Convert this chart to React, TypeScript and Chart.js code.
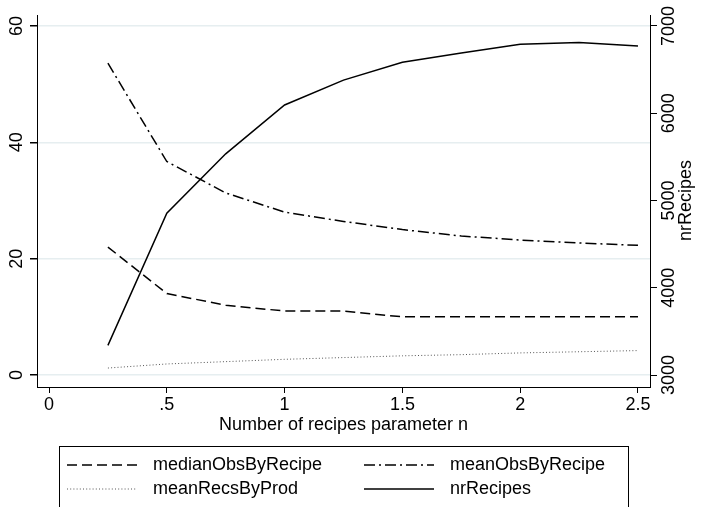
import React, { useEffect, useRef } from "react";
import { Chart, registerables } from "chart.js";

Chart.register(...registerables);

const nValues = [0.25, 0.5, 0.75, 1, 1.25, 1.5, 1.75, 2, 2.25, 2.5];
const medianObsByRecipe = [22, 14, 12, 11, 11, 10, 10, 10, 10, 10];
const meanObsByRecipe = [53.6, 36.7, 31.3, 28.0, 26.4, 25.0, 23.9, 23.2, 22.7, 22.3];
const meanRecsByProd = [1.2, 1.9, 2.3, 2.7, 3.0, 3.3, 3.5, 3.8, 4.0, 4.2];
const nrRecipes = [3340, 4855, 5535, 6095, 6380, 6585, 6690, 6790, 6810, 6770];

const xTicks = [0, 0.5, 1, 1.5, 2, 2.5];
const yLeftTicks = [0, 20, 40, 60];
const yRightTicks = [3000, 4000, 5000, 6000, 7000];

const xTitle = "Number of recipes parameter n";
const yRightTitle = "nrRecipes";

const FONT = '"Liberation Sans", Arial, Helvetica, sans-serif';
const FS = 18;

const fmtX = (v: number) => {
  const s = String(v);
  return s.startsWith("0.") ? s.slice(1) : s;
};

const toPts = (vals: number[]) => vals.map((y, i) => ({ x: nValues[i], y }));

const stataPlugin = {
  id: "stataDecor",
  afterDraw(chart: any) {
    const ctx = chart.ctx as CanvasRenderingContext2D;
    const ca = chart.chartArea;
    const yL = chart.scales.y;
    const yR = chart.scales.y2;
    ctx.save();
    ctx.fillStyle = "#000";
    ctx.font = `${FS}px ${FONT}`;
    ctx.textAlign = "center";
    ctx.textBaseline = "middle";
    // left tick labels, rotated
    yLeftTicks.forEach((v) => {
      ctx.save();
      ctx.translate(ca.left - 21, yL.getPixelForValue(v));
      ctx.rotate(-Math.PI / 2);
      ctx.fillText(String(v), 0, 1);
      ctx.restore();
    });
    // right tick labels, rotated
    yRightTicks.forEach((v) => {
      ctx.save();
      ctx.translate(ca.right + 18, yR.getPixelForValue(v));
      ctx.rotate(-Math.PI / 2);
      ctx.fillText(String(v), 0, 1);
      ctx.restore();
    });
    // right title
    ctx.save();
    ctx.translate(ca.right + 36, (yR.getPixelForValue(3000) + yR.getPixelForValue(7000)) / 2);
    ctx.rotate(-Math.PI / 2);
    ctx.fillText(yRightTitle, 0, 0);
    ctx.restore();
    // x title
    ctx.fillText(xTitle, (ca.left + ca.right) / 2, 425);

    // legend
    const boxL = 59.5, boxT = 446.5, boxR = 628.5;
    ctx.strokeStyle = "#000";
    ctx.lineWidth = 1;
    ctx.setLineDash([]);
    ctx.strokeRect(boxL, boxT, boxR - boxL, 100);
    const order = [0, 1, 2, 3];
    const cols = [67, 364];
    const rows = [465, 489];
    order.forEach((di, k) => {
      const ds = chart.data.datasets[di];
      const x0 = cols[k % 2];
      const y0 = rows[Math.floor(k / 2)];
      ctx.save();
      ctx.strokeStyle = ds.borderColor;
      ctx.lineWidth = ds.borderWidth;
      ctx.setLineDash(ds.borderDash || []);
      ctx.beginPath();
      ctx.moveTo(x0, y0);
      ctx.lineTo(x0 + 70, y0);
      ctx.stroke();
      ctx.restore();
      ctx.textAlign = "left";
      ctx.fillText(ds.label, x0 + 86, y0);
    });
    ctx.restore();
  },
};

export default function App() {
  const ref = useRef<HTMLCanvasElement | null>(null);
  useEffect(() => {
    if (!ref.current) return;
    const chart = new Chart(ref.current, {
      type: "line",
      data: {
        datasets: [
          {
            label: "medianObsByRecipe",
            data: toPts(medianObsByRecipe),
            yAxisID: "y",
            borderColor: "#000",
            borderWidth: 1.5,
            borderDash: [10, 5],
            pointRadius: 0,
            tension: 0,
          },
          {
            label: "meanObsByRecipe",
            data: toPts(meanObsByRecipe),
            yAxisID: "y",
            borderColor: "#000",
            borderWidth: 1.5,
            borderDash: [11, 4, 2, 4],
            pointRadius: 0,
            tension: 0,
          },
          {
            label: "meanRecsByProd",
            data: toPts(meanRecsByProd),
            yAxisID: "y",
            borderColor: "#555",
            borderWidth: 1,
            borderDash: [1, 2.2],
            pointRadius: 0,
            tension: 0,
          },
          {
            label: "nrRecipes",
            data: toPts(nrRecipes),
            yAxisID: "y2",
            borderColor: "#000",
            borderWidth: 1.5,
            pointRadius: 0,
            tension: 0,
          },
        ],
      },
      options: {
        responsive: false,
        animation: false,
        devicePixelRatio: 1,
        layout: { padding: { top: 15, left: 0, right: 0, bottom: 0 } },
        plugins: { legend: { display: false }, tooltip: { enabled: false } },
        scales: {
          x: {
            type: "linear",
            position: "bottom",
            min: -0.051,
            max: 2.551,
            bounds: "data",
            afterBuildTicks: (s: any) => {
              s.ticks = xTicks.map((v) => ({ value: v }));
            },
            afterFit: (s: any) => {
              s.height = 120;
            },
            ticks: {
              color: "#000",
              font: { family: FONT, size: FS },
              padding: 1,
              maxRotation: 0,
              minRotation: 0,
              autoSkip: false,
              callback: (v: any) => fmtX(Number(v)),
            },
            grid: { drawOnChartArea: false, tickColor: "#000", tickLength: 6, lineWidth: 1 },
            border: { color: "#000", width: 1 },
          },
          y: {
            type: "linear",
            position: "left",
            min: -2.06,
            max: 61.89,
            bounds: "data",
            afterBuildTicks: (s: any) => {
              s.ticks = yLeftTicks.map((v) => ({ value: v }));
            },
            afterFit: (s: any) => {
              s.width = 37;
            },
            ticks: { display: false },
            grid: { color: "#e6eef0", lineWidth: 1.5, tickColor: "#000", tickLength: 7 },
            border: { color: "#000", width: 1 },
          },
          y2: {
            type: "linear",
            position: "right",
            min: 2862.5,
            max: 7126,
            bounds: "data",
            afterBuildTicks: (s: any) => {
              s.ticks = yRightTicks.map((v) => ({ value: v }));
            },
            afterFit: (s: any) => {
              s.width = 51;
            },
            ticks: { display: false },
            grid: { drawOnChartArea: false, tickColor: "#000", tickLength: 7, lineWidth: 1 },
            border: { color: "#000", width: 1 },
          },
        },
      },
      plugins: [stataPlugin],
    } as any);
    return () => chart.destroy();
  }, []);
  return (
    <div style={{ position: "absolute", left: 0, top: 0, width: 701, height: 507, background: "#fff" }}>
      <canvas ref={ref} width={701} height={507} style={{ display: "block" }} />
    </div>
  );
}
